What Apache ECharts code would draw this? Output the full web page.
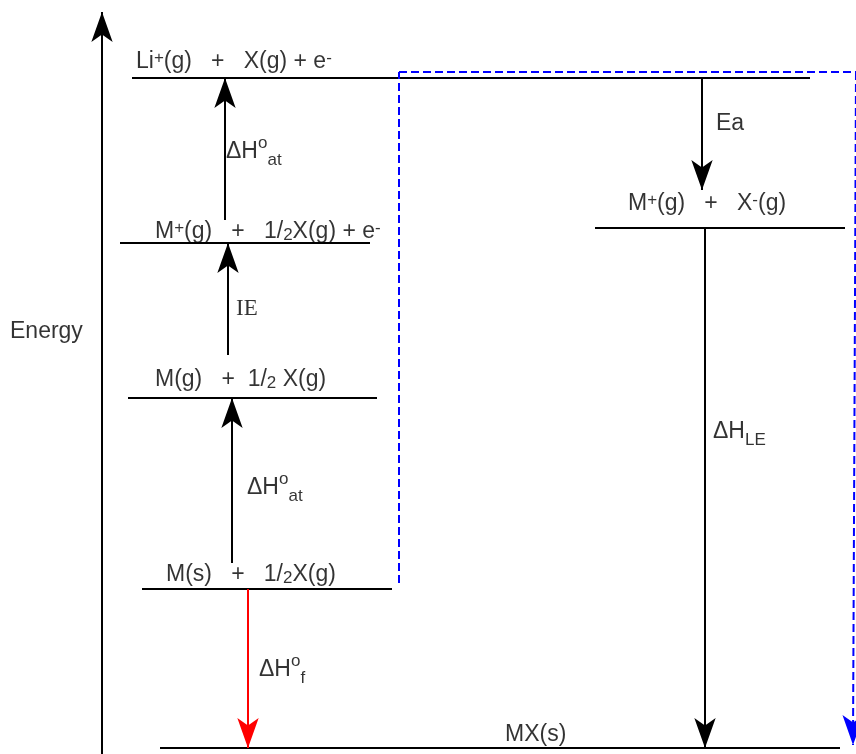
<!DOCTYPE html>
<html>
<head>
<meta charset="utf-8">
<title>Born-Haber cycle</title>
<script src="https://cdn.jsdelivr.net/npm/echarts@6/dist/echarts.min.js"></script>
<style>
  html, body { margin: 0; padding: 0; background: #fff; }
  #chart { width: 856px; height: 754px; }
</style>
</head>
<body>
<div id="chart"></div>
<script>
// energy levels (energy in arbitrary units, 0 = bottom of the diagram)
const levelLabels = [
  'Li{sup|+}(g)   +   X(g) + e{sup|-}',
  'M{sup|+}(g)   +   1/{sub|2}X(g) + e{sup|-}',
  'M(g)   +  1/{sub|2} X(g)',
  'M(s)   +   1/{sub|2}X(g)',
  'MX(s)',
  'M{sup|+}(g)   +   X{sup|-}(g)'
]
const levelEnergy = [676, 511, 356, 165, 6, 526]

// steps of the cycle: label, energy where the arrow starts and ends
const stepLabels = ['ΔH{sup|o}{sub|at}', 'IE', 'ΔH{sup|o}{sub|at}', 'Ea', 'ΔH{lsub|LE}', 'ΔH{sup|o}{sub|f}']
const stepStart = [191, 399, 534, 676, 526, 165]
const stepEnd = [356, 511, 676, 564, 6, 6]

// layout (horizontal extents, label anchors)
const levelFrom = [132, 120, 128, 142, 160, 595]
const levelTo = [810, 370, 377, 392, 840, 845]
const levelLabelX = [136, 155, 155, 166, 505, 628]
const levelLabelE = [692, 522, 374, 179, 19, 550]
const stepX = [232, 228, 225, 702, 705, 248]
const stepLabelX = [247, 236, 226, 716, 713, 259]
const stepLabelE = [266, 445, 602, 630, 322, 84]
const stepColor = ['#000', '#000', '#000', '#000', '#000', '#ff0000']

const HEAD = [16, 30]
const FONT = 'Liberation Sans, Arial, sans-serif'

const chart = echarts.init(document.getElementById('chart'))

const levelLines = levelEnergy.map((e, i) => ({ coords: [[levelFrom[i], e], [levelTo[i], e]] }))

const arrows = stepStart.map((s, i) => ({
  coords: [[stepX[i], s], [stepX[i], stepEnd[i]]],
  lineStyle: { color: stepColor[i] }
}))
// energy axis
arrows.push({ coords: [[102, 0], [102, 742]], lineStyle: { color: '#000' } })
// dashed route back down, last leg with the head
arrows.push({ coords: [[856, 682], [853, 9]], lineStyle: { color: '#0000ff', type: [8, 4] } })

const dashed = [
  { coords: [[399, 171], [399, 682]] },
  { coords: [[399, 682], [856, 682]] }
]

const levelRich = {
  sup: { fontSize: 17, lineHeight: 22, verticalAlign: 'top', fontFamily: FONT, color: '#000' },
  sub: { fontSize: 17, lineHeight: 10, verticalAlign: 'bottom', fontFamily: FONT, color: '#000' }
}
const stepRich = {
  sup: { fontSize: 17, lineHeight: 24, verticalAlign: 'top', fontFamily: FONT, color: '#000' },
  sub: { fontSize: 17, lineHeight: 8, verticalAlign: 'bottom', fontFamily: FONT, color: '#000' },
  lsub: { fontSize: 17, lineHeight: 20, verticalAlign: 'bottom', fontFamily: FONT, color: '#000' }
}

const texts = []
levelLabels.forEach((t, i) => {
  texts.push({
    value: [levelLabelX[i], levelLabelE[i]],
    label: { formatter: t, lineHeight: 24, rich: levelRich }
  })
})
stepLabels.forEach((t, i) => {
  texts.push({
    value: [stepLabelX[i], stepLabelE[i]],
    label: {
      formatter: t,
      lineHeight: 34,
      rich: stepRich,
      fontFamily: t === 'IE' ? 'Liberation Serif, Times New Roman, serif' : FONT
    }
  })
})
texts.push({ value: [10, 422], label: { formatter: 'Energy', lineHeight: 24 } })

chart.setOption({
  animation: false,
  grid: { left: 0, right: 0, top: 0, bottom: 0 },
  xAxis: { type: 'value', min: 0, max: 856, show: false },
  yAxis: { type: 'value', min: 0, max: 754, show: false },
  series: [{
    type: 'lines',
    coordinateSystem: 'cartesian2d',
    lineStyle: { color: '#000', width: 2, opacity: 1 },
    data: levelLines
  }, {
    type: 'lines',
    coordinateSystem: 'cartesian2d',
    lineStyle: { color: '#0000ff', width: 2, opacity: 1, type: [8, 4] },
    data: dashed
  }, {
    type: 'lines',
    coordinateSystem: 'cartesian2d',
    symbol: ['none', 'arrow'],
    symbolSize: [1, HEAD],
    lineStyle: { width: 2, opacity: 1 },
    data: arrows
  }, {
    type: 'scatter',
    symbolSize: 0,
    itemStyle: { color: 'transparent' },
    label: {
      show: true,
      position: 'right',
      distance: 0,
      color: '#000',
      fontSize: 23,
      fontFamily: FONT
    },
    data: texts
  }]
})
</script>
</body>
</html>
